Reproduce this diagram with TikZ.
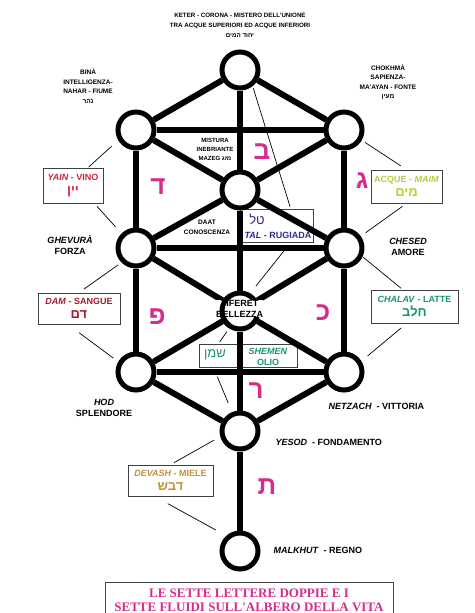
\documentclass[tikz,border=0pt]{standalone}
\usepackage{fontspec}
\setmainfont{Liberation Sans}
\newfontfamily\hebfont[Script=Hebrew]{Liberation Sans}
\newfontfamily\titlefont{Liberation Serif}
\TeXXeTstate=1
\newcommand{\fsz}[2]{\fontsize{#1}{#2}\selectfont}
\newcommand{\ebr}[1]{{\hebfont\beginR#1\endR}}
\newcommand{\ebrg}[1]{{\hebfont\fontsize{13}{14}\selectfont\beginR#1\endR}}
\definecolor{rosa}{RGB}{214,45,140}
\definecolor{rossovino}{RGB}{205,35,55}
\definecolor{rossosangue}{RGB}{165,25,50}
\definecolor{gialloacque}{RGB}{185,205,55}
\definecolor{verdelatte}{RGB}{25,150,100}
\definecolor{blurugiada}{RGB}{45,45,145}
\definecolor{oromiele}{RGB}{195,145,60}

\begin{document}
\begin{tikzpicture}[x=1pt,y=-1pt,
    sefira/.style={circle,draw,line width=5pt,fill=white,minimum size=36pt,inner sep=0pt},
    canale/.style={line width=6pt},
    filo/.style={line width=0.7pt},
    fluido/.style={draw=black!75,line width=0.8pt,fill=white,inner sep=1pt,align=center,font=\fsz{9}{14}\bfseries},
    nome/.style={align=center,font=\fsz{9}{11}\bfseries},
    piccolo/.style={align=center,font=\fsz{6.5}{9.5}\bfseries},
    lettera/.style={text=rosa,font=\hebfont\bfseries\fsz{26}{26}}]
      \clip (0,0) rectangle (474,613) ;
      \fill[white] (0,0) rectangle (474,613) ;
      % etichette in alto
      \node[piccolo,font=\fsz{6.2}{10}\bfseries] (keterlbl) at (240,25) %
      {KETER - CORONA - MISTERO DELL'UNIONE\\TRA ACQUE SUPERIORI ED ACQUE INFERIORI\\\ebr{יחוד המים}} ;
      \node[piccolo] (binalbl) at (88,86) {BINÀ\\INTELLIGENZA-\\NAHAR - FIUME\\\ebr{נהר}} ;
      \node[piccolo] (chokhmalbl) at (388,82) {CHOKHMÀ\\SAPIENZA-\\MA'AYAN - FONTE\\\ebr{מעין}} ;
      \node[piccolo,font=\fsz{6}{9}\bfseries] (mazeglbl) at (215,149) {MISTURA\\INEBRIANTE\\MAZEG \ebr{מזג}} ;
      \node[piccolo,font=\fsz{6.5}{10}\bfseries] (daatlbl) at (207,227) {DAAT\\CONOSCENZA} ;
      \node[nome] (ghevuralbl) at (70,245.5) {\textit{GHEVURÀ}\\FORZA} ;
      \node[nome] (chesedlbl) at (408,246.5) {\textit{CHESED}\\AMORE} ;
      \node[nome] (hodlbl) at (104,408) {\textit{HOD}\\SPLENDORE} ;
      \node[nome,anchor=west] (netzachlbl) at (325,406) {\textit{NETZACH}\ \ - VITTORIA} ;
      \node[nome,anchor=west] (yesodlbl) at (272,442) {\textit{YESOD}\ \ - FONDAMENTO} ;
      \node[nome,anchor=west] (malkhutlbl) at (270,550) {\textit{MALKHUT}\ \ - REGNO} ;
      % i sette fluidi
      \node[fluido,minimum width=60pt,minimum height=35pt,text=rossovino] (yain) at (73,185.5) %
      {\textit{YAIN} - VINO\\\ebrg{יין}} ;
      \node[fluido,minimum width=82pt,minimum height=31pt,text=rossosangue] (dam) at (79,308.5) %
      {\textit{DAM} - SANGUE\\\ebrg{דם}} ;
      \node[fluido,minimum width=71pt,minimum height=33pt,text=gialloacque] (acque) at (406.5,186.5) %
      {ACQUE - \textit{MAIM}\\\ebrg{מים}} ;
      \node[fluido,minimum width=87pt,minimum height=33pt,text=verdelatte] (chalav) at (414.5,306.5) %
      {\textit{CHALAV} - LATTE\\\ebrg{חלב}} ;
      \node[fluido,minimum width=85pt,minimum height=31pt,text=oromiele] (devash) at (170.5,480.5) %
      {\textit{DEVASH} - MIELE\\\ebrg{דבש}} ;
      \node[fluido,minimum width=73pt,minimum height=33pt] (tal) at (276.5,225.5) {} ;
      \node[text=blurugiada,font=\fsz{13}{13}] (talebr) at (257,219) {\ebr{טל}} ;
      \node[text=blurugiada,font=\fsz{9}{9}\bfseries] (talnome) at (278,235) {\textit{TAL} - RUGIADA} ;
      \node[fluido,minimum width=98pt,minimum height=23pt] (shemen) at (248,355.5) {} ;
      \node[text=verdelatte,font=\fsz{13}{13}] (shemenebr) at (215,355) {\ebr{שמן}} ;
      \node[nome,text=verdelatte] (shemennome) at (268,356.5) {\textit{SHEMEN}\\OLIO} ;
      % sefirot
      \node[sefira] (keter) at (240,70) {} ;
      \node[sefira] (bina) at (136,130) {} ;
      \node[sefira] (chokhma) at (344,130) {} ;
      \node[sefira] (daat) at (240,190) {} ;
      \node[sefira] (ghevura) at (136,248) {} ;
      \node[sefira] (chesed) at (344,248) {} ;
      \node[sefira] (tiferet) at (240,311) {} ;
      \node[sefira] (hod) at (136,372) {} ;
      \node[sefira] (netzach) at (344,372) {} ;
      \node[sefira] (yesod) at (240,431) {} ;
      \node[sefira] (malkhut) at (240,551) {} ;
      % canali
      \foreach \a/\b in {keter/bina,keter/chokhma,keter/daat,bina/chokhma,bina/daat,chokhma/daat,%
        bina/ghevura,chokhma/chesed,daat/ghevura,daat/chesed,daat/tiferet,ghevura/chesed,%
        ghevura/tiferet,chesed/tiferet,ghevura/hod,chesed/netzach,tiferet/hod,tiferet/netzach,%
        hod/netzach,hod/yesod,netzach/yesod,tiferet/yesod,yesod/malkhut}
        \draw[canale] (\a) -- (\b) ;
      \node[nome,fill=white,inner sep=0pt] (tiferetlbl) at (239.5,308.5) {TIFERET\\BELLEZZA} ;
      \draw[line width=5pt] (tiferet) ++(125:18) arc[start angle=125,end angle=235,radius=18] ;
      % fili verso i riquadri
      \foreach \a/\b/\s/\e in {bina.210/yain.50/9/1,yain.-40/ghevura.135/4/9,%
        ghevura.225/dam.north/4/6,dam.-125/hod.150/14/6,chokhma.-30/acque.north/4/7,%
        acque.south/chesed.35/5/6,chesed.-25/chalav.125/1/2,chalav.-115/netzach.32/7/8,%
        keter.-52/tal.50/2/2,tal.-50/tiferet.60/5/9,tiferet.-122/shemen.158/4/2,%
        shemen.-161/yesod.113/10/10,yesod.196/devash.north/7/4,devash.-135/malkhut.132/15/12}
        \draw[filo,shorten <=\s pt,shorten >=\e pt] (\a) -- (\b) ;
      % lettere doppie
      \node[lettera] (bet) at (262,152) {ב} ;
      \node[lettera] (dalet) at (158,187) {ד} ;
      \node[lettera] (gimel) at (362,181) {ג} ;
      \node[lettera] (pe) at (157,317) {פ} ;
      \node[lettera] (kaf) at (323,313) {כ} ;
      \node[lettera] (resh) at (256,391) {ר} ;
      \node[lettera] (tav) at (267,487) {ת} ;
      % titolo
      \draw[draw=black!75,line width=0.8pt] (105,582) rectangle (393,650) ;
      \node[text=rosa,font=\titlefont\bfseries\fsz{13}{14},align=center,anchor=north] (titolo) at (249,585) %
      {LE SETTE LETTERE DOPPIE E I\\SETTE FLUIDI SULL'ALBERO DELLA VITA} ;
    \end{tikzpicture}
\end{document}
